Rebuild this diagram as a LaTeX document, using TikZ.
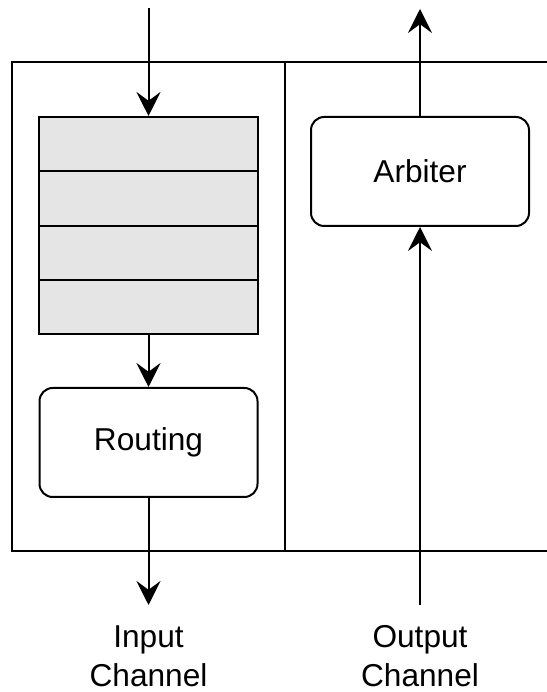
\documentclass[tikz,border=0pt]{standalone}
\usepackage{fontspec}
\setmainfont{Liberation Sans}
\usetikzlibrary{arrows.meta}
\tikzset{
  wire/.style={line width=0.05cm},
  arr/.style={wire, -{Stealth[length=0.6cm, width=0.6cm, inset=0.22cm]}},
  queuebox/.style={draw, wire, fill=black!10, minimum width=5.475cm, minimum height=5.425cm, inner sep=0pt},
  unitbox/.style={draw, wire, rounded corners=0.33cm, minimum width=5.45cm, minimum height=2.725cm},
  chanlabel/.style={align=center, font=\fontsize{22.5}{27.7}\selectfont}
}
\begin{document}
\begin{tikzpicture}
                    \useasboundingbox (0,0) rectangle (13.65,17.3);
                    {\fontsize{22.5}{27.7}\selectfont

                    % Drawing the router frame, open to the right
                    \draw [wire] (13.8,15.75) -- (0.3,15.75) -- (0.3,3.525) -- (13.8,3.525);%
                    \draw [wire] (7.125,15.75) -- (7.125,3.525);%

                    % Marking the input queue
                    \node [queuebox] (queue) at (3.7125,11.6625) {};%
                    \foreach \y in {13.025,11.65,10.3}
                        \draw [wire] (queue.west |- 0,\y) -- (queue.east |- 0,\y);%

                    % Marking the routing unit
                    \node [unitbox] (routing) at (3.7125,6.2375) {Routing};%

                    % Marking the arbiter
                    \node [unitbox] (arbiter) at (10.5,13.0125) {Arbiter};%

                    % Free ends of the channels
                    \coordinate (inTop) at (3.7125,17.1);%
                    \coordinate (inEnd) at (3.7125,2.175);%
                    \coordinate (outTop) at (10.5,17.075);%
                    \coordinate (outStart) at (10.5,2.175);%

                    % Drawing the input channel
                    \draw [arr] (inTop) -- (queue.north);%
                    \draw [arr] (queue.south) -- (routing.north);%
                    \draw [arr] (routing.south) -- (inEnd);%

                    % Drawing the output channel
                    \draw [arr] (outStart) -- (arbiter.south);%
                    \draw [arr] (arbiter.north) -- (outTop);%

                    % Marking the channel names
                    \node [chanlabel] (inlabel) at (3.7125,0.9) {Input\\Channel};%
                    \node [chanlabel] (outlabel) at (10.5,0.9) {Output\\Channel};%
                    }
\end{tikzpicture}
\end{document}
